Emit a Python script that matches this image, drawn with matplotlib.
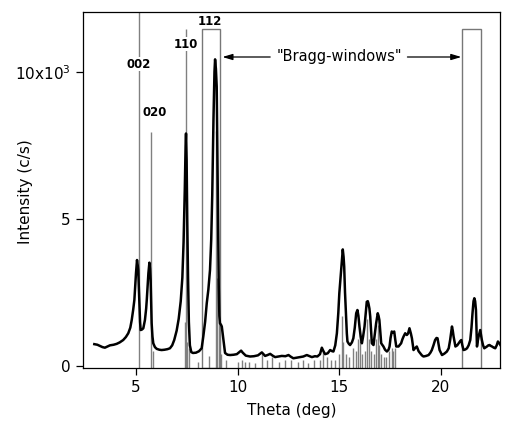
import matplotlib
matplotlib.use("Agg")
import matplotlib.pyplot as plt
from matplotlib.patches import Rectangle

# ---- data (theta in deg, intensity in counts/s) ----
theta = [2.95, 3.1, 3.23, 3.35, 3.47, 3.6, 3.72, 3.9, 4.05, 4.2, 4.37, 4.5, 4.62, 4.72, 4.79, 4.86,
         4.92, 4.97, 5.0, 5.05, 5.08, 5.11, 5.16, 5.2, 5.23, 5.3, 5.36, 5.44, 5.5, 5.53, 5.58, 5.61,
         5.66, 5.69, 5.72, 5.75, 5.77, 5.81, 5.85, 5.93, 6.02, 6.15, 6.26, 6.4, 6.55, 6.67, 6.78, 6.88,
         7.0, 7.1, 7.2, 7.28, 7.34, 7.40, 7.44, 7.46, 7.49, 7.52, 7.56, 7.60, 7.65, 7.72, 7.8, 7.95,
         8.1, 8.23, 8.31, 8.4, 8.48, 8.56, 8.64, 8.70, 8.75, 8.81, 8.86, 8.89, 8.93, 8.97, 9.02, 9.07,
         9.1, 9.13, 9.18, 9.22, 9.30, 9.38, 9.5, 9.63, 9.8, 9.96, 10.1, 10.17, 10.25, 10.4, 10.61, 10.8,
         11.0, 11.19, 11.27, 11.35, 11.47, 11.6, 11.72, 11.84, 12.0, 12.17, 12.35, 12.5, 12.62, 12.74,
         12.9, 13.07, 13.23, 13.4, 13.55, 13.65, 13.8, 13.92, 14.05, 14.14, 14.22, 14.3, 14.43, 14.55,
         14.65, 14.71, 14.8, 14.88, 14.95, 15.0, 15.06, 15.12, 15.17, 15.21, 15.24, 15.28, 15.33, 15.37,
         15.40, 15.47, 15.53, 15.62, 15.69, 15.76, 15.83, 15.89, 15.94, 15.99, 16.05, 16.11, 16.17,
         16.24, 16.3, 16.35, 16.40, 16.43, 16.48, 16.52, 16.56, 16.60, 16.68, 16.75, 16.81, 16.89,
         16.93, 16.97, 17.02, 17.06, 17.17, 17.25, 17.34, 17.42, 17.47, 17.52, 17.58, 17.64, 17.70,
         17.75, 17.80, 17.91, 18.04, 18.1, 18.16, 18.24, 18.32, 18.38, 18.45, 18.52, 18.57, 18.65,
         18.72, 18.81, 18.9, 18.98, 19.06, 19.14, 19.27, 19.39, 19.48, 19.55, 19.63, 19.71, 19.78,
         19.83, 19.88, 19.93, 20.05, 20.17, 20.29, 20.38, 20.45, 20.54, 20.58, 20.62, 20.71, 20.8,
         20.87, 20.95, 21.00, 21.05, 21.11, 21.2, 21.28, 21.36, 21.44, 21.5, 21.55, 21.6, 21.64, 21.68,
         21.72, 21.75, 21.77, 21.81, 21.85, 21.93, 21.97, 22.01, 22.07, 22.13, 22.2, 22.26, 22.33,
         22.39, 22.45, 22.51, 22.6, 22.67, 22.74, 22.80, 22.86, 22.92]
intensity_k = [0.74, 0.72, 0.68, 0.64, 0.62, 0.66, 0.70, 0.72, 0.75, 0.80, 0.88, 0.98, 1.11, 1.30, 1.56, 1.90,
               2.24, 2.80, 3.15, 3.60, 3.45, 3.26, 2.24, 1.5, 1.22, 1.24, 1.28, 1.56, 1.95, 2.24, 2.8, 3.15,
               3.51, 3.3, 2.92, 2.0, 1.45, 1.0, 0.77, 0.64, 0.58, 0.55, 0.54, 0.55, 0.57, 0.60, 0.70, 0.88,
               1.2, 1.6, 2.2, 3.0, 4.2, 6.0, 7.5, 7.9, 7.0, 5.0, 3.0, 1.5, 0.7, 0.47, 0.44, 0.45,
               0.5, 0.6, 1.0, 1.5, 2.13, 2.6, 3.26, 4.3, 5.8, 8.36, 10.0, 10.42, 10.1, 9.49, 6.09, 2.69,
               1.7, 1.45, 1.40, 1.34, 0.88, 0.44, 0.38, 0.37, 0.38, 0.40, 0.48, 0.52, 0.45, 0.35, 0.32, 0.33,
               0.36, 0.46, 0.40, 0.34, 0.37, 0.41, 0.35, 0.30, 0.32, 0.34, 0.33, 0.37, 0.31, 0.26,
               0.28, 0.30, 0.32, 0.37, 0.33, 0.30, 0.33, 0.32, 0.4, 0.62, 0.5, 0.40, 0.43, 0.54,
               0.5, 0.49, 0.7, 1.11, 1.8, 2.47, 3.0, 3.5, 3.96, 3.7, 3.37, 2.5, 1.68, 1.1,
               0.83, 0.75, 0.71, 0.8, 0.94, 1.3, 1.79, 1.90, 1.7, 1.34, 1.0, 0.77, 1.0,
               1.34, 1.8, 2.18, 2.2, 2.13, 1.95, 1.68, 1.2, 0.77, 0.71, 1.1, 1.45, 1.79,
               1.7, 1.56, 1.1, 0.77, 0.66, 0.55, 0.49, 0.55, 0.66, 0.95, 1.17, 1.13, 1.17,
               0.9, 0.66, 0.66, 0.77, 0.9, 1.0, 1.11, 1.05, 1.1, 1.28, 1.1, 0.94, 0.54,
               0.6, 0.66, 0.5, 0.43, 0.36, 0.32, 0.34, 0.37, 0.45, 0.54, 0.7, 0.88, 0.95,
               0.94, 0.75, 0.54, 0.37, 0.42, 0.49, 0.6, 0.88, 1.34, 1.2, 1.0, 0.66, 0.7,
               0.77, 0.85, 0.88, 0.7, 0.54, 0.56, 0.60, 0.7, 0.88, 1.3, 1.79, 2.2, 2.30, 2.2,
               1.90, 1.2, 0.66, 0.85, 1.0, 1.22, 1.05, 0.88, 0.7, 0.60, 0.63, 0.66, 0.7,
               0.71, 0.68, 0.66, 0.62, 0.60, 0.7, 0.83, 0.78, 0.71]
intensity = [v * 1000 for v in intensity_k]

# calculated reflection positions (deg) and stick heights (c/s)
refl_pos = [5.15, 5.72, 5.82, 7.41, 7.46, 7.52, 7.61, 8.05, 8.6, 8.95, 9.0, 9.1, 9.2, 9.45,
            10.0, 10.2, 10.35, 10.55, 10.85, 11.2, 11.45, 11.7, 12.05, 12.35, 12.6, 12.95,
            13.2, 13.45, 13.75, 14.05, 14.2, 14.4, 14.6, 14.8, 15.0, 15.12, 15.2, 15.35, 15.5,
            15.65, 15.8, 15.9, 16.0, 16.1, 16.25, 16.35, 16.45, 16.55, 16.7, 16.8, 16.88,
            16.95, 17.05, 17.2, 17.3, 17.45, 17.58, 17.65, 17.72]
refl_height = [12100, 7960, 500, 1500, 11450, 800, 600, 150, 350, 8000, 3000, 1500, 400, 200,
               150, 200, 150, 150, 100, 400, 200, 300, 150, 200, 200, 150,
               200, 100, 200, 200, 500, 300, 200, 200, 400, 1700, 800, 400, 300,
               600, 500, 900, 1100, 400, 500, 1600, 900, 500, 400, 900, 1400,
               700, 400, 300, 300, 500, 600, 500, 600]

hkl_labels = ["002", "020", "110", "112"]
hkl_label_x = [5.15, 5.94, 7.46, 8.64]
hkl_label_y = [10260, 8600, 10940, 11720]

windows = [(8.23, 9.15), (21.02, 21.96)]
window_top = 11440

x_ticks = [5, 10, 15, 20]
y_ticks = [0, 5000, 10000]
y_ticklabels = ["0", "5", "10x10$^{3}$"]

# ---- figure ----
fig = plt.figure(figsize=(5.05, 4.22), dpi=100)
ax = fig.add_axes([0.1638, 0.128, 0.8262, 0.8436])
xmin, xmax = 2.38, 22.90
ymin, ymax = -70, 12030
ax.set_xlim(xmin, xmax)
ax.set_ylim(ymin, ymax)

ax.vlines(refl_pos, ymin, refl_height, colors="#808080", linewidth=1.0, zorder=1)

for (x0, x1) in windows:
    ax.add_patch(Rectangle((x0, ymin), x1 - x0, window_top - ymin, fill=False,
                           edgecolor="#777777", linewidth=1.0, zorder=1))

ax.plot(theta, intensity, color="black", linewidth=1.8, zorder=3)

for lab, lx, ly in zip(hkl_labels, hkl_label_x, hkl_label_y):
    ax.text(lx, ly, lab, ha="center", va="center", fontsize=8.5, fontweight="bold", zorder=4,
            bbox=dict(facecolor="white", edgecolor="none", pad=0.5))

ax.text(15.0, 10500, '"Bragg-windows"', ha="center", va="center", fontsize=10.5, zorder=4)
arrow_kw = dict(arrowstyle="-|>,head_length=0.6,head_width=0.18", color="black",
                linewidth=0.9, shrinkA=0, shrinkB=0)
ax.annotate("", xy=(9.25, 10500), xytext=(11.6, 10500), arrowprops=arrow_kw)
ax.annotate("", xy=(21.0, 10500), xytext=(18.35, 10500), arrowprops=arrow_kw)

ax.set_xticks(x_ticks)
ax.set_yticks(y_ticks)
ax.set_yticklabels(y_ticklabels)
ax.tick_params(direction="out", length=5, width=0.9, labelsize=11)
ax.minorticks_off()
for s in ax.spines.values():
    s.set_linewidth(0.9)

ax.set_xlabel("Theta (deg)", fontsize=11)
ax.set_ylabel("Intensity (c/s)", fontsize=11)
ax.yaxis.set_label_coords(-0.119, 0.494)
ax.xaxis.set_label_coords(0.5, -0.098)

fig.savefig("out.png", dpi=100)
